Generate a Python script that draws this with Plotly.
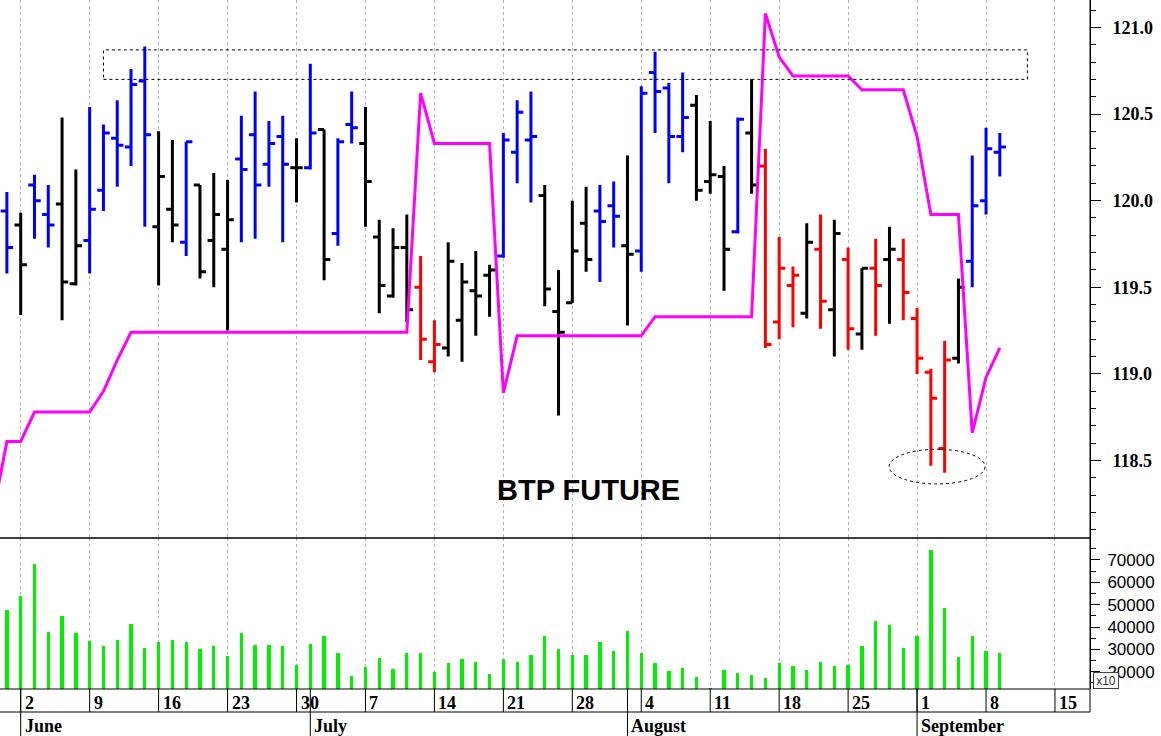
import pandas as pd
import plotly.graph_objects as go

# ---------------- data ----------------
# trading days shown as bars (30 May .. 9 Sep)
bar_start, bar_end = "2014-05-30", "2014-09-09"
# the magenta stop line also has one value for the day before the first bar
stop_start = "2014-05-29"
# calendar used for the date axis (extends to the last labelled week)
cal_start, cal_end = "2014-05-29", "2014-09-19"

opens = [119.94, 119.86, 120.09, 119.92, 119.98, 119.52, 119.77, 120.06, 120.36, 120.31,
         120.69, 119.85, 119.95, 119.76, 120.09, 119.77, 119.72, 120.24, 120.38, 120.21,
         120.37, 120.19, 120.19, 120.41, 119.81, 120.44, 120.33, 119.79, 119.45, 119.73,
         119.50, 119.07, 119.15, 119.31, 119.48, 119.57, 119.68, 120.28, 120.35, 120.03,
         119.36, 119.41, 119.87, 119.94, 119.97, 119.74, 119.71, 120.74, 120.65, 120.37,
         120.55, 120.11, 120.14, 119.82, 120.39, 120.20, 119.30, 119.51, 119.35, 119.72,
         119.37, 119.66, 119.23, 119.61, 119.66, 119.66, 119.32, 119.01, 118.57, 119.09,
         119.65, 120.00, 120.28]
highs = [120.05, 119.93, 120.15, 120.09, 120.48, 120.18, 120.54, 120.44, 120.58, 120.76,
         120.89, 120.40, 120.35, 120.34, 120.09, 120.16, 120.12, 120.49, 120.63, 120.46,
         120.49, 120.36, 120.79, 120.41, 120.36, 120.63, 120.54, 119.89, 119.84, 119.92,
         119.68, 119.31, 119.76, 119.64, 119.71, 119.63, 120.39, 120.58, 120.63, 120.09,
         119.60, 120.00, 120.08, 120.09, 120.11, 120.26, 120.66, 120.86, 120.68, 120.74,
         120.61, 120.46, 120.20, 120.48, 120.70, 120.30, 119.79, 119.62, 119.87, 119.92,
         119.89, 119.73, 119.61, 119.78, 119.85, 119.78, 119.38, 119.03, 119.19, 119.55,
         120.26, 120.42, 120.39]
lows = [119.58, 119.34, 119.78, 119.73, 119.31, 119.51, 119.58, 119.94, 120.08, 120.20,
        119.85, 119.51, 119.76, 119.68, 119.55, 119.50, 119.25, 119.76, 119.78, 120.08,
        119.76, 119.99, 120.18, 119.54, 119.74, 120.33, 119.85, 119.35, 119.44, 119.30,
        119.08, 119.01, 119.10, 119.07, 119.22, 119.33, 119.67, 120.10, 119.99, 119.39,
        118.76, 119.41, 119.59, 119.53, 119.73, 119.28, 119.59, 120.39, 120.10, 120.28,
        120.00, 120.04, 119.48, 119.81, 120.04, 119.15, 119.20, 119.27, 119.32, 119.26,
        119.10, 119.14, 119.14, 119.22, 119.29, 119.31, 119.00, 118.47, 118.43, 119.06,
        119.50, 119.92, 120.14]
closes = [119.73, 119.63, 120.00, 119.86, 119.53, 119.74, 119.95, 120.39, 120.32, 120.67,
          120.38, 120.14, 119.86, 120.34, 119.59, 119.92, 119.89, 120.18, 120.09, 120.33,
          120.21, 120.19, 120.39, 119.66, 120.34, 120.42, 120.11, 119.51, 119.73, 119.37,
          119.20, 119.17, 119.65, 119.53, 119.45, 119.60, 120.35, 120.51, 120.37, 119.49,
          119.24, 119.71, 119.66, 119.88, 119.91, 119.69, 120.62, 120.63, 120.37, 120.48,
          120.06, 120.15, 119.72, 120.47, 120.09, 119.17, 119.61, 119.57, 119.76, 119.42,
          119.81, 119.26, 119.61, 119.51, 119.72, 119.47, 119.09, 118.86, 119.08, 119.50,
          119.97, 120.30, 120.31]
# bar colour class: B = blue, K = black, R = red
bar_class = ["B", "K", "B", "B", "K", "K", "B", "B", "B", "B",
             "B", "K", "K", "B", "K", "K", "K", "B", "B", "B",
             "B", "K", "B", "K", "B", "B", "K", "K", "K", "K",
             "R", "R", "K", "K", "K", "K", "B", "B", "B", "K",
             "K", "K", "K", "B", "B", "K", "B", "B", "B", "B",
             "K", "K", "K", "B", "K", "R", "R", "R", "K", "R",
             "K", "R", "K", "R", "K", "R", "R", "R", "R", "K",
             "B", "B", "B"]
volume = [47700, 53700, 68200, 37800, 44800, 37100, 33800, 31400, 34100, 41500,
          30800, 33100, 34400, 33100, 30100, 31400, 27000, 37100, 31900, 31900,
          31400, 23000, 32600, 35900, 28600, 18100, 21900, 26200, 21200, 28200,
          28600, 20000, 23700, 25600, 24500, 18800, 25600, 24200, 27700, 35900,
          30100, 27400, 27600, 33400, 29400, 38300, 28200, 23700, 20500, 21800,
          17800, 12900, 21000, 19300, 18500, 17300, 23700, 22500, 21000, 24200,
          22500, 23000, 31400, 42700, 41100, 30700, 35900, 74500, 48500, 26400,
          35900, 29400, 28600]
stop_line = [118.20, 118.61, 118.61, 118.78, 118.78, 118.78, 118.78, 118.78, 118.90, 119.08,
             119.24, 119.24, 119.24, 119.24, 119.24, 119.24, 119.24, 119.24, 119.24, 119.24,
             119.24, 119.24, 119.24, 119.24, 119.24, 119.24, 119.24, 119.24, 119.24, 119.24,
             119.24, 120.62, 120.33, 120.33, 120.33, 120.33, 120.33, 118.89, 119.22, 119.22,
             119.22, 119.22, 119.22, 119.22, 119.22, 119.22, 119.22, 119.22, 119.33, 119.33,
             119.33, 119.33, 119.33, 119.33, 119.33, 119.33, 121.08, 120.83, 120.72, 120.72,
             120.72, 120.72, 120.72, 120.64, 120.64, 120.64, 120.64, 120.37, 119.92, 119.92,
             119.92, 118.66, 118.98, 119.15]
month_names = {6: "June", 7: "July", 8: "August", 9: "September"}
chart_title = "BTP FUTURE"

# highlighted zones (drawn annotations)
box_days = ("2014-06-10", "2014-09-11")
box_prices = (120.70, 120.87)
ellipse_days = ("2014-08-28", "2014-09-08")
ellipse_prices = (118.365, 118.565)

# ---------------- positions on a trading-day axis ----------------
cal = pd.bdate_range(cal_start, cal_end)
pos_of = {d: i - 1 for i, d in enumerate(cal)}  # 30 May -> 0
bar_dates = pd.bdate_range(bar_start, bar_end)
stop_dates = pd.bdate_range(stop_start, bar_end)
x_bar = [pos_of[d] for d in bar_dates]
x_stop = [pos_of[d] for d in stop_dates]

mondays = [d for d in cal if d.weekday() == 0 and d >= pd.Timestamp("2014-06-01")]
month_starts = []
seen = set()
for d in cal:
    if d.month >= 6 and d.month not in seen:
        seen.add(d.month)
        month_starts.append(d)

# ---------------- figure ----------------
W, H = 1161, 736
plot_w = 1090
plot_h = 689
split = 538  # pixel row between price and volume panels
price_dom = [(plot_h - split) / plot_h, 1]
vol_dom = [0, (plot_h - split) / plot_h]

fig = go.Figure()

fig.add_trace(go.Scatter(x=x_stop, y=stop_line, mode="lines",
                         line=dict(color="#FF00FF", width=3),
                         hoverinfo="skip", showlegend=False))

colors = {"B": "#0000FF", "K": "#000000", "R": "#FF0000"}
for code, col in colors.items():
    ids = [i for i, c in enumerate(bar_class) if c == code]
    fig.add_trace(go.Ohlc(
        x=[x_bar[i] for i in ids],
        open=[opens[i] for i in ids], high=[highs[i] for i in ids],
        low=[lows[i] for i in ids], close=[closes[i] for i in ids],
        increasing=dict(line=dict(color=col, width=3)),
        decreasing=dict(line=dict(color=col, width=3)),
        tickwidth=0.45, hoverinfo="skip", showlegend=False))

fig.add_trace(go.Bar(x=x_bar, y=volume, width=0.24,
                     marker=dict(color="#00F000", line=dict(width=0)),
                     xaxis="x2", yaxis="y2", hoverinfo="skip", showlegend=False))

x_range = [-0.501, 78.54]
grid_style = dict(showgrid=True, gridcolor="#b4b4b4", gridwidth=1, griddash="3px,3px",
                  tickmode="array", tickvals=[pos_of[d] for d in mondays],
                  showticklabels=False, ticks="", zeroline=False, showline=False,
                  range=x_range)

serif_bold = dict(family="Liberation Serif", size=18, color="black", weight="bold")

fig.update_layout(
    width=W, height=H,
    margin=dict(l=0, r=W - plot_w, t=0, b=H - plot_h),
    paper_bgcolor="white", plot_bgcolor="white",
    bargap=0,
    xaxis=dict(domain=[0, 1], anchor="y", rangeslider=dict(visible=False), **grid_style),
    xaxis2=dict(domain=[0, 1], anchor="y2", matches="x", **grid_style),
    yaxis=dict(domain=price_dom, range=[118.053, 121.158], side="right",
               tick0=118.5, dtick=0.5, tickformat=".1f",
               ticks="outside", ticklen=10, tickwidth=1, tickcolor="black",
               minor=dict(dtick=0.1, tick0=118.0, ticks="outside", ticklen=5,
                          tickcolor="black", showgrid=False),
               showgrid=False, zeroline=False, showline=True, linecolor="black",
               linewidth=1, tickfont=serif_bold, ticklabelstandoff=8),
    yaxis2=dict(domain=vol_dom, range=[12285, 79792], side="right",
                tick0=0, dtick=10000, tickformat="d",
                ticks="outside", ticklen=9, tickwidth=1, tickcolor="black",
                minor=dict(dtick=5000, tick0=0, ticks="outside", ticklen=5,
                           tickcolor="black", showgrid=False),
                showgrid=False, zeroline=False, showline=True, linecolor="black",
                linewidth=1,
                tickfont=dict(family="Liberation Sans", size=17, color="black"),
                ticklabelstandoff=4),
)

shapes = []
row_y = -23 / plot_h
bottom_y = -(H - plot_h) / plot_h
# separator between panels, panel bottom, label-row bottom
for yy, w in [(price_dom[0], 1.5), (0, 1), (row_y, 1)]:
    shapes.append(dict(type="line", xref="paper", yref="paper", x0=0, x1=1, y0=yy, y1=yy,
                       line=dict(color="black", width=w), layer="above"))
# right axis line through the label row
shapes.append(dict(type="line", xref="paper", yref="paper", x0=1, x1=1, y0=row_y, y1=1,
                   line=dict(color="black", width=1)))
for d in mondays:
    shapes.append(dict(type="line", xref="x", yref="paper", x0=pos_of[d], x1=pos_of[d],
                       y0=0, y1=row_y, line=dict(color="black", width=1)))
for d in month_starts:
    shapes.append(dict(type="line", xref="x", yref="paper", x0=pos_of[d], x1=pos_of[d],
                       y0=0, y1=bottom_y, line=dict(color="black", width=1)))
# dashed resistance box and dashed ellipse
shapes.append(dict(type="rect", xref="x", yref="y",
                   x0=pos_of[pd.Timestamp(box_days[0])], x1=pos_of[pd.Timestamp(box_days[1])],
                   y0=box_prices[0], y1=box_prices[1],
                   line=dict(color="black", width=1, dash="3px,3px")))
shapes.append(dict(type="circle", xref="x", yref="y",
                   x0=pos_of[pd.Timestamp(ellipse_days[0])] - 0.03,
                   x1=pos_of[pd.Timestamp(ellipse_days[1])] - 0.07,
                   y0=ellipse_prices[0], y1=ellipse_prices[1],
                   line=dict(color="black", width=1, dash="3px,3px")))

annotations = []
for d in mondays:
    annotations.append(dict(x=pos_of[d], y=-13.5 / plot_h, xref="x", yref="paper",
                            text=str(d.day), showarrow=False, xanchor="left",
                            yanchor="middle", xshift=2, font=serif_bold))
for d in month_starts:
    annotations.append(dict(x=pos_of[d], y=-37 / plot_h, xref="x", yref="paper",
                            text=month_names[d.month], showarrow=False, xanchor="left",
                            yanchor="middle", xshift=2, font=serif_bold))
annotations.append(dict(x=42.2, y=118.33, xref="x", yref="y", text=chart_title,
                        showarrow=False, xanchor="center", yanchor="middle",
                        font=dict(family="Liberation Sans", size=29, color="black",
                                  weight="bold")))
annotations.append(dict(x=(1092.7 + 1119.3) / 2 / plot_w, y=9 / plot_h,
                        xref="paper", yref="paper", text="x10", showarrow=False,
                        xanchor="center", yanchor="middle", width=24, height=15,
                        borderpad=0, bgcolor="white", bordercolor="#444",
                        borderwidth=1,
                        font=dict(family="Liberation Sans", size=12, color="#333")))

fig.update_layout(shapes=shapes, annotations=annotations)

# the page's default body margin would shift the chart by 8px; remove it
fig.write_html("out.html",
               config={"displayModeBar": False},
               post_script="document.body.style.margin='0px';document.body.style.overflow='hidden';")
